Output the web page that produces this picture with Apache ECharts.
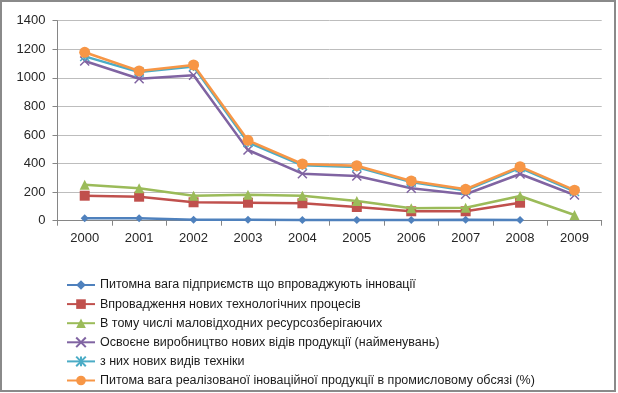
<!DOCTYPE html>
<html><head><meta charset="utf-8">
<script src="https://cdn.jsdelivr.net/npm/echarts@6/dist/echarts.min.js"></script>
<style>html,body{margin:0;padding:0;background:#fff}#c{width:618px;height:393px;box-sizing:border-box}</style>
</head><body><div id="c"></div>
<script>
const years = ['2000','2001','2002','2003','2004','2005','2006','2007','2008','2009'];
const seriesNames = [
  'Питомна вага підприємств що впроваджують інновації',
  'Впровадження нових технологічних процесів',
  'В тому числі маловідходних ресурсозберігаючих',
  'Освоєне виробництво нових відів продукції (найменувань)',
  'з них нових видів техніки',
  'Питома вага реалізованої іноваційної продукції в промисловому обсязі (%)'
];
const share = [17, 18, 7, 7, 5, 5, 5, 6, 5, null];
const techProcesses = [175, 168, 129, 126, 122, 96, 66, 66, 126, null];
const lowWaste = [252, 227, 175, 182, 175, 138, 87, 91, 173, 40];
const newProducts = [1118, 994, 1018, 495, 329, 313, 227, 185, 327, 180];
const newMachinery = [1150, 1040, 1080, 548, 388, 376, 270, 212, 370, 205];
const innovShare = [1179, 1048, 1090, 563, 397, 385, 278, 220, 378, 214];
const yTicks = [0, 200, 400, 600, 800, 1000, 1200, 1400];

const colors = ['#4F81BD','#C0504D','#9BBB59','#8064A2','#4BACC6','#F79646'];
const symbols = ['diamond','rect','triangle','path://M0,0L10,10M10,0L0,10','path://M0,0L10,10M10,0L0,10M5,0L5,10','circle'];
const sizes = [8,10,10,9,9,11];
const data = [share, techProcesses, lowWaste, newProducts, newMachinery, innovShare];

const chart = echarts.init(document.getElementById('c'), null, {renderer:'canvas'});
const font = '"Liberation Sans", Arial, sans-serif';
chart.setOption({
  animation:false,
  backgroundColor:'#fff',
  graphic:[{type:'rect',shape:{x:1,y:1,width:614,height:390},style:{fill:'none',stroke:'#8a8a8a',lineWidth:2},silent:true}],
  grid:{left:57.5,right:16.3,top:20.7,bottom:172.3,containLabel:false},
  legend:{
    orient:'vertical',left:61,top:273,itemWidth:28,itemHeight:12,itemGap:5.1,
    textStyle:{fontFamily:font,fontSize:12.5,color:'#1a1a1a',lineHeight:14},
    data:seriesNames
  },
  xAxis:{
    type:'category',data:years,boundaryGap:true,
    axisLine:{lineStyle:{color:'#868686',width:1}},
    axisTick:{show:true,length:5,lineStyle:{color:'#868686'},alignWithLabel:false},
    axisLabel:{fontFamily:font,fontSize:13,color:'#262626',margin:11}
  },
  yAxis:{
    type:'value',min:yTicks[0],max:yTicks[yTicks.length-1],interval:200,
    axisLine:{show:true,lineStyle:{color:'#868686'}},
    axisTick:{show:true,length:5,lineStyle:{color:'#868686'}},
    axisLabel:{fontFamily:font,fontSize:13,color:'#262626',margin:12,formatter:v=>String(v)},
    splitLine:{lineStyle:{color:'#bdbdbd',width:1}}
  },
  series: data.map((d,i)=>({
    name:seriesNames[i],type:'line',data:d,
    symbol:symbols[i],symbolSize:sizes[i],showAllSymbol:true,
    lineStyle:{color:colors[i],width:2.5},
    itemStyle:{color:colors[i],borderColor:colors[i],borderWidth: (i===3||i===4)?1.5:0},
    connectNulls:false,z:2+i
  }))
});
</script></body></html>
